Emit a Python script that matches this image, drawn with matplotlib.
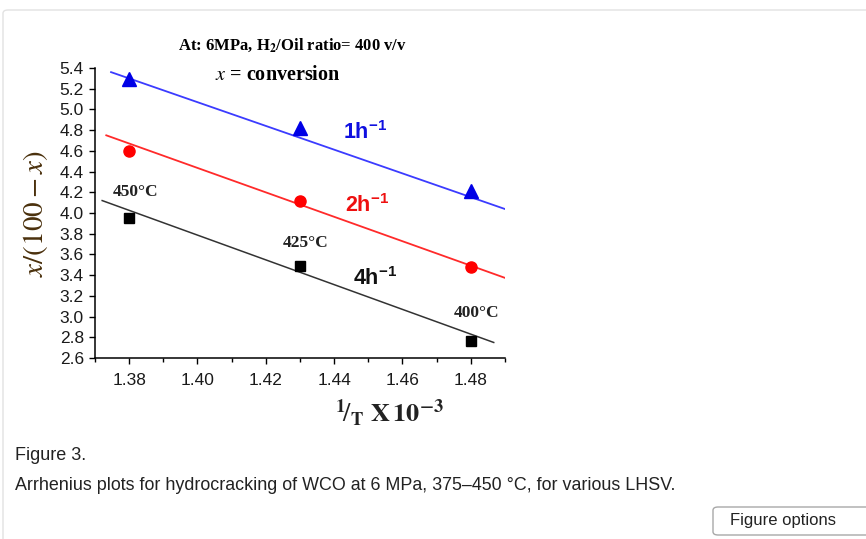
import matplotlib
matplotlib.use("Agg")
import matplotlib.pyplot as plt
from matplotlib.patches import FancyBboxPatch
from matplotlib.ticker import MultipleLocator

# data
inv_T = [1.38, 1.43, 1.48]
y_1h = [5.29, 4.82, 4.21]
y_2h = [4.60, 4.12, 3.48]
y_4h = [3.95, 3.49, 2.76]

# fitted lines as drawn in the figure (end points)
fit_1h_x = [1.3747, 1.4916]
fit_1h_y = [5.36, 4.02]
fit_2h_x = [1.3733, 1.492]
fit_2h_y = [4.75, 3.35]
fit_4h_x = [1.3721, 1.4867]
fit_4h_y = [4.12, 2.75]

temp_labels = ["450°C", "425°C", "400°C"]
temp_pos = [(1.382, 4.20), (1.4316, 3.71), (1.4816, 3.03)]

plt.rcParams["mathtext.fontset"] = "custom"
plt.rcParams["mathtext.rm"] = "Liberation Sans"
plt.rcParams["mathtext.bf"] = "Liberation Sans:bold"


def main():
    fig = plt.figure(figsize=(8.66, 5.39), dpi=100)
    ax = fig.add_axes([95 / 866, 1 - 358 / 539, 410 / 866, 290 / 539])

    # panel frame of the web page
    fig.patches.append(FancyBboxPatch((3 / 866, -0.1), 1.1, 1.1 - 10 / 539,
                                      boxstyle="round,pad=0,rounding_size=0.006",
                                      transform=fig.transFigure, fc="none",
                                      ec="#e2e2e2", lw=1.0))

    ax.plot(fit_1h_x, fit_1h_y, color="#3b3bff", lw=1.3)
    ax.plot(fit_2h_x, fit_2h_y, color="#ff2a2a", lw=1.3)
    ax.plot(fit_4h_x, fit_4h_y, color="#333333", lw=1.1)
    ax.plot(inv_T, y_1h, "^", color="#0000e6", ms=10, ls="none")
    ax.plot(inv_T, y_2h, "o", color="#ff0000", ms=8, ls="none")
    ax.plot(inv_T, y_4h, "s", color="#000000", ms=7.5, ls="none")

    ax.set_xlim(1.37, 1.49)
    ax.set_ylim(2.6, 5.4)
    ax.xaxis.set_minor_locator(MultipleLocator(0.01))
    ax.set_xticks([1.38, 1.40, 1.42, 1.44, 1.46, 1.48])
    ax.set_xticklabels(["1.38", "1.40", "1.42", "1.44", "1.46", "1.48"])
    ax.set_yticks([2.6 + 0.2 * i for i in range(15)])
    ax.set_yticklabels(["%.1f" % (2.6 + 0.2 * i) for i in range(15)])
    for lab in ax.get_xticklabels() + ax.get_yticklabels():
        lab.set_family("Liberation Sans")
        lab.set_fontsize(12.5)
        lab.set_color("#1a1a1a")
    ax.tick_params(axis="x", which="major", direction="out", length=4, width=1, pad=7)
    ax.tick_params(axis="y", which="major", direction="out", length=4, width=1, pad=4)
    ax.tick_params(which="minor", direction="out", length=3, width=1)
    ax.spines["top"].set_visible(False)
    ax.spines["right"].set_visible(False)
    ax.spines["left"].set_linewidth(1.1)
    ax.spines["bottom"].set_linewidth(1.1)

    # series labels
    ax.text(1.4491, 4.79, r"$\mathbf{1h}^{\mathbf{-1}}$", color="#1010e0",
            fontsize=15.5, ha="center", va="center")
    ax.text(1.4497, 4.08, r"$\mathbf{2h}^{\mathbf{-1}}$", color="#ee1010",
            fontsize=15.5, ha="center", va="center")
    ax.text(1.4521, 3.38, r"$\mathbf{4h}^{\mathbf{-1}}$", color="#111111",
            fontsize=15.5, ha="center", va="center")
    for lab, (x, y) in zip(temp_labels, temp_pos):
        ax.text(x, y, lab, family="Liberation Serif", fontweight="bold",
                fontsize=12.5, ha="center", va="center", color="#222222")

    # headers
    fig.text(292 / 866, 1 - 45 / 539,
             r"At: 6MPa, H$_{\mathbf{2}}$/Oil ratio= 400 v/v",
             family="Liberation Serif", fontweight="bold", fontsize=12,
             ha="center", va="center", math_fontfamily="stix")
    fig.text(215 / 866, 1 - 75 / 539, r"$\mathit{x}$ = conversion",
             family="Liberation Serif", fontweight="bold", fontsize=14.5,
             ha="left", va="center", math_fontfamily="stix")

    # axis labels
    fig.text(35 / 866, 1 - 214 / 539, r"$x/(100-x)$", rotation=90,
             fontsize=21, color="#4a300c", ha="center", va="center",
             math_fontfamily="stix")
    fig.text(389 / 866, 1 - 413 / 539,
             r"$^{\mathbf{1}}\!/_{\mathbf{T}}\ \mathbf{X\,10^{-3}}$",
             fontsize=19, ha="center", va="center", color="#222222",
             math_fontfamily="stix")

    # caption and button
    fig.text(15 / 866, 1 - 456 / 539, "Figure 3.", family="Liberation Sans",
             fontsize=13, ha="left", va="center", color="#222222")
    fig.text(15 / 866, 1 - 485 / 539,
             "Arrhenius plots for hydrocracking of WCO at 6 MPa, 375–450 °C, for various LHSV.",
             family="Liberation Sans", fontsize=12.9, ha="left", va="center",
             color="#222222")
    fig.patches.append(FancyBboxPatch((713 / 866, 1 - 535 / 539), 0.3, 28 / 539,
                                      boxstyle="round,pad=0,rounding_size=0.006",
                                      transform=fig.transFigure, fc="white",
                                      ec="#a8a8a8", lw=1.0))
    fig.text(730 / 866, 1 - 521 / 539, "Figure options", family="Liberation Sans",
             fontsize=12, ha="left", va="center", color="#222222")

    fig.savefig("out.png", dpi=100)


if __name__ == "__main__":
    main()
